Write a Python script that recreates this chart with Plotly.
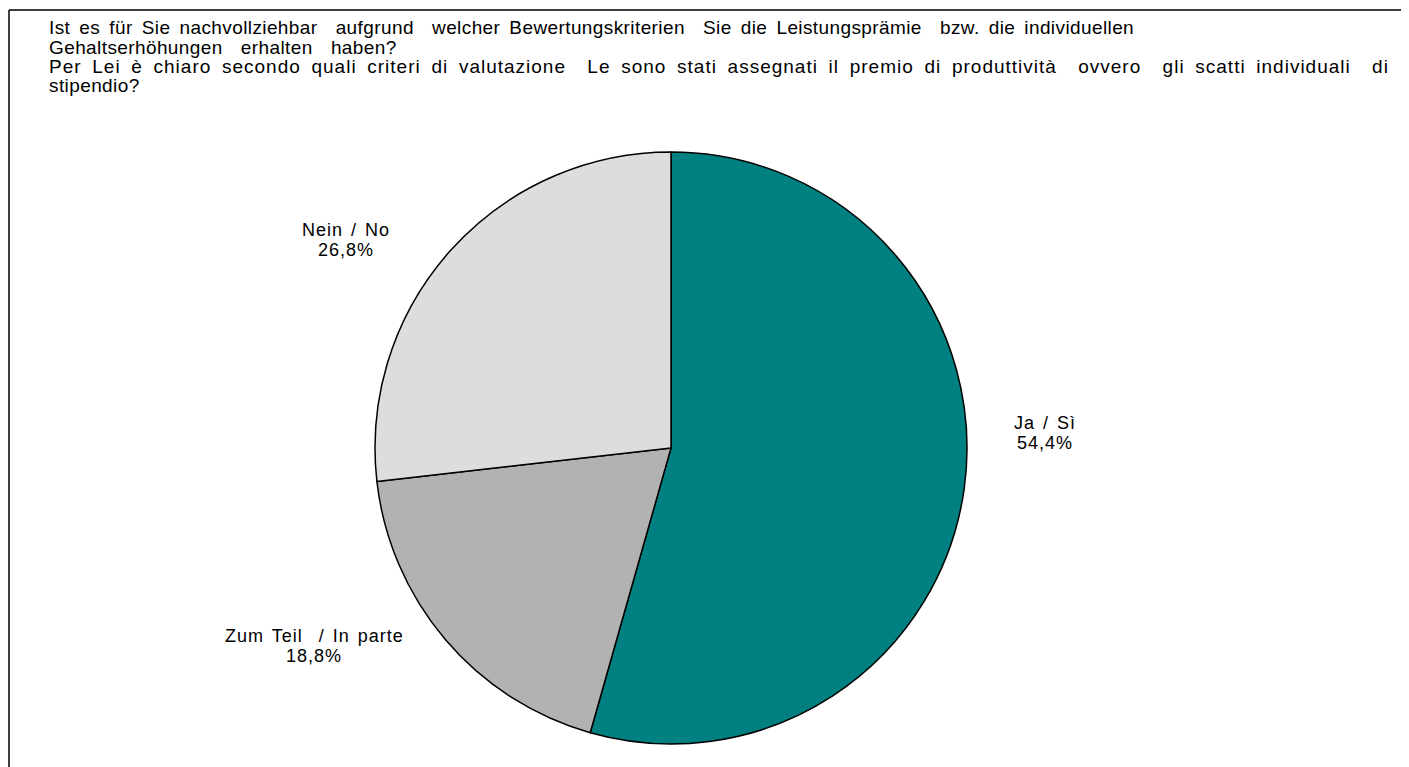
import plotly.graph_objects as go

# survey answers, clockwise from 12 o'clock
labels = ["Ja / Sì", "Zum Teil\u00a0 / In parte", "Nein / No"]
shares = [54.4, 18.8, 26.8]
colors = ["#008080", "#B2B2B2", "#DDDDDD"]

title_lines = [
    "Ist es für Sie nachvollziehbar\u00a0 aufgrund\u00a0 welcher Bewertungskriterien\u00a0 Sie die Leistungsprämie\u00a0 bzw. die individuellen",
    "Gehaltserhöhungen\u00a0 erhalten\u00a0 haben?",
    "Per Lei è chiaro secondo quali criteri di valutazione\u00a0 Le sono stati assegnati il premio di produttività\u00a0 ovvero\u00a0 gli scatti individuali\u00a0 di",
    "stipendio?",
]
# the source text is spread out more than the font's own spacing
title_spacing = [(0.4, 3.4), (0.4, 3.4), (1.0, 4.4), (0.4, 3.4)]

W, H = 1409, 767
FONT = "Liberation Sans, Arial, sans-serif"
LINE = 19.3

# label centres in pixels
label_px = [(1037, 425), (306, 638), (338, 232)]


def px(x, y):
    return x / W, 1 - y / H


def spaced(text, tracking, words):
    return (f'<span style="letter-spacing:{tracking}px;'
            f'word-spacing:{words}px">{text}</span>')


fig = go.Figure()
fig.add_trace(go.Pie(
    labels=labels, values=shares, sort=False, direction="clockwise",
    rotation=0, textinfo="none", hoverinfo="label+percent",
    marker=dict(colors=colors, line=dict(color="black", width=1.5)),
    domain=dict(x=[(663 - 296) / W, (663 + 296) / W],
                y=[1 - 736 / H, 1 - 144 / H]),
    showlegend=False,
))

annotations = []
for i, (line, (tr, ws)) in enumerate(zip(title_lines, title_spacing)):
    x, y = px(39, 20 + i * LINE)
    annotations.append(dict(
        x=x, y=y, xref="paper", yref="paper", xanchor="left",
        yanchor="middle", showarrow=False, text=spaced(line, tr, ws),
        font=dict(family=FONT, size=19, color="black"),
    ))

for lab, val, (cx, cy) in zip(labels, shares, label_px):
    pct = f"{val:.1f}%".replace(".", ",")
    for j, t in enumerate([lab, pct]):
        x, y = px(cx, cy + (j - 0.5) * 20)
        annotations.append(dict(
            x=x, y=y, xref="paper", yref="paper", xanchor="center",
            yanchor="middle", showarrow=False, text=spaced(t, 1.0, 2),
            font=dict(family=FONT, size=18, color="black"),
        ))

fig.update_layout(
    width=W, height=H,
    margin=dict(l=0, r=0, t=0, b=0),
    paper_bgcolor="white", plot_bgcolor="white",
    annotations=annotations,
    shapes=[
        dict(type="line", xref="paper", yref="paper",
             x0=1 / W, y0=1 - 2 / H, x1=1, y1=1 - 2 / H,
             line=dict(color="black", width=1.5)),
        dict(type="line", xref="paper", yref="paper",
             x0=1 / W, y0=1 - 2 / H, x1=1 / W, y1=0,
             line=dict(color="black", width=1.5)),
    ],
)

fig.write_html("out.html")
